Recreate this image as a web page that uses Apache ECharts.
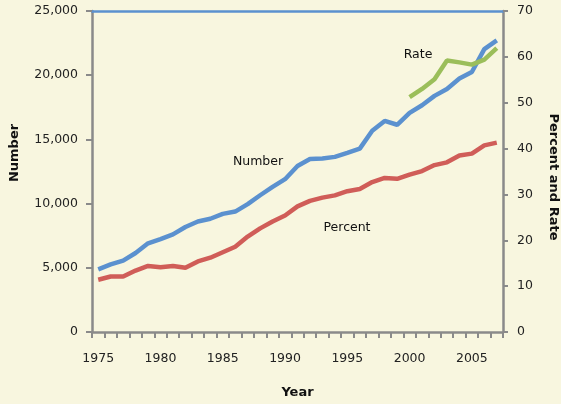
<!DOCTYPE html>
<html>
<head>
<meta charset="utf-8">
<script src="https://cdn.jsdelivr.net/npm/echarts@6/dist/echarts.min.js"></script>
<style>
  html, body { margin: 0; padding: 0; background: #f8f6df; }
  #chart { width: 561px; height: 404px; }
</style>
</head>
<body>
<div id="chart"></div>
<script>
const years = [];
for (let y = 1975; y <= 2007; y++) years.push(String(y));

// number (left axis)
const numberValues = [
  4880, 5260, 5560, 6150, 6910, 7240, 7600, 8180, 8610, 8820,
  9200, 9380, 9960, 10650, 11300, 11900, 12930, 13470, 13510, 13640,
  13950, 14280, 15680, 16440, 16140, 17070, 17660, 18390, 18930, 19740,
  20250, 22030, 22710
];
// percent (right axis)
const percentValues = [
  11.4, 12.1, 12.1, 13.4, 14.4, 14.1, 14.4, 14.0, 15.4, 16.2,
  17.4, 18.6, 20.8, 22.6, 24.1, 25.4, 27.4, 28.6, 29.3, 29.8,
  30.7, 31.2, 32.7, 33.6, 33.4, 34.3, 35.1, 36.4, 37.0, 38.5,
  38.9, 40.7, 41.3
];
// rate (right axis), only from 2000
const rateValues = [
  null, null, null, null, null, null, null, null, null, null,
  null, null, null, null, null, null, null, null, null, null,
  null, null, null, null, null, 51.2, 53.0, 55.1, 59.2, 58.8,
  58.3, 59.4, 61.9
];

const axisGray = "#8a8a8a";
const labelFont = { color: "#222", fontSize: 12.5, fontFamily: "DejaVu Sans" };
const titleFont = { color: "#111", fontSize: 13, fontWeight: "bold", fontFamily: "DejaVu Sans" };
const noteFont = { fill: "#111", fontSize: 12.5, fontFamily: "DejaVu Sans" };

const chart = echarts.init(document.getElementById("chart"));
chart.setOption({
  backgroundColor: "#f8f6df",
  animation: false,
  grid: { left: 92, right: 58, top: 11, bottom: 65 },
  xAxis: [
    {
      type: "category",
      data: years,
      position: "bottom",
      axisLine: { onZero: false, lineStyle: { color: axisGray, width: 2.5 } },
      axisTick: { show: true, interval: 0, length: 6, lineStyle: { color: axisGray, width: 2 } },
      axisLabel: {
        ...labelFont,
        margin: 20,
        interval: (i, v) => Number(v) % 5 === 0,
      },
      name: "Year",
      nameLocation: "middle",
      nameGap: 54,
      nameTextStyle: titleFont,
    },
    {
      // blue top border of the plot
      type: "category",
      data: years,
      position: "top",
      axisLine: { onZero: false, lineStyle: { color: "#5b91cf", width: 2.5 } },
      axisTick: { show: false },
      axisLabel: { show: false },
    },
  ],
  yAxis: [
    {
      type: "value",
      min: 0,
      max: 25000,
      interval: 5000,
      position: "left",
      splitLine: { show: false },
      axisLine: { show: true, onZero: false, lineStyle: { color: axisGray, width: 2.5 } },
      axisTick: { show: true, length: 6, lineStyle: { color: axisGray, width: 2 } },
      axisLabel: {
        ...labelFont,
        margin: 14,
        formatter: (v) => v.toLocaleString("en-US"),
      },
    },
    {
      type: "value",
      min: 0,
      max: 70,
      interval: 10,
      position: "right",
      splitLine: { show: false },
      axisLine: { show: true, onZero: false, lineStyle: { color: axisGray, width: 2.5 } },
      axisTick: { show: true, length: 5, lineStyle: { color: axisGray, width: 2 } },
      axisLabel: { ...labelFont, margin: 14 },
    },
  ],
  series: [
    {
      name: "Number",
      type: "line",
      data: numberValues,
      yAxisIndex: 0,
      symbol: "none",
      lineStyle: { color: "#5b91cf", width: 4.5 },
    },
    {
      name: "Percent",
      type: "line",
      data: percentValues,
      yAxisIndex: 1,
      symbol: "none",
      lineStyle: { color: "#d05d58", width: 4.5 },
    },
    {
      name: "Rate",
      type: "line",
      data: rateValues,
      yAxisIndex: 1,
      symbol: "none",
      lineStyle: { color: "#9bbe5a", width: 4.5 },
    },
  ],
  graphic: [
    {
      type: "text", rotation: Math.PI / 2, x: 15, y: 153,
      style: { text: "Number", ...titleFont, fill: "#111", textAlign: "center", textVerticalAlign: "middle" },
    },
    {
      type: "text", rotation: -Math.PI / 2, x: 553, y: 177,
      style: { text: "Percent and Rate", ...titleFont, fill: "#111", textAlign: "center", textVerticalAlign: "middle" },
    },
    {
      type: "text", x: 258, y: 162,
      style: { text: "Number", ...noteFont, textAlign: "center", textVerticalAlign: "middle" },
    },
    {
      type: "text", x: 347, y: 228,
      style: { text: "Percent", ...noteFont, textAlign: "center", textVerticalAlign: "middle" },
    },
    {
      type: "text", x: 418, y: 55,
      style: { text: "Rate", ...noteFont, textAlign: "center", textVerticalAlign: "middle" },
    },
  ],
});
</script>
</body>
</html>
